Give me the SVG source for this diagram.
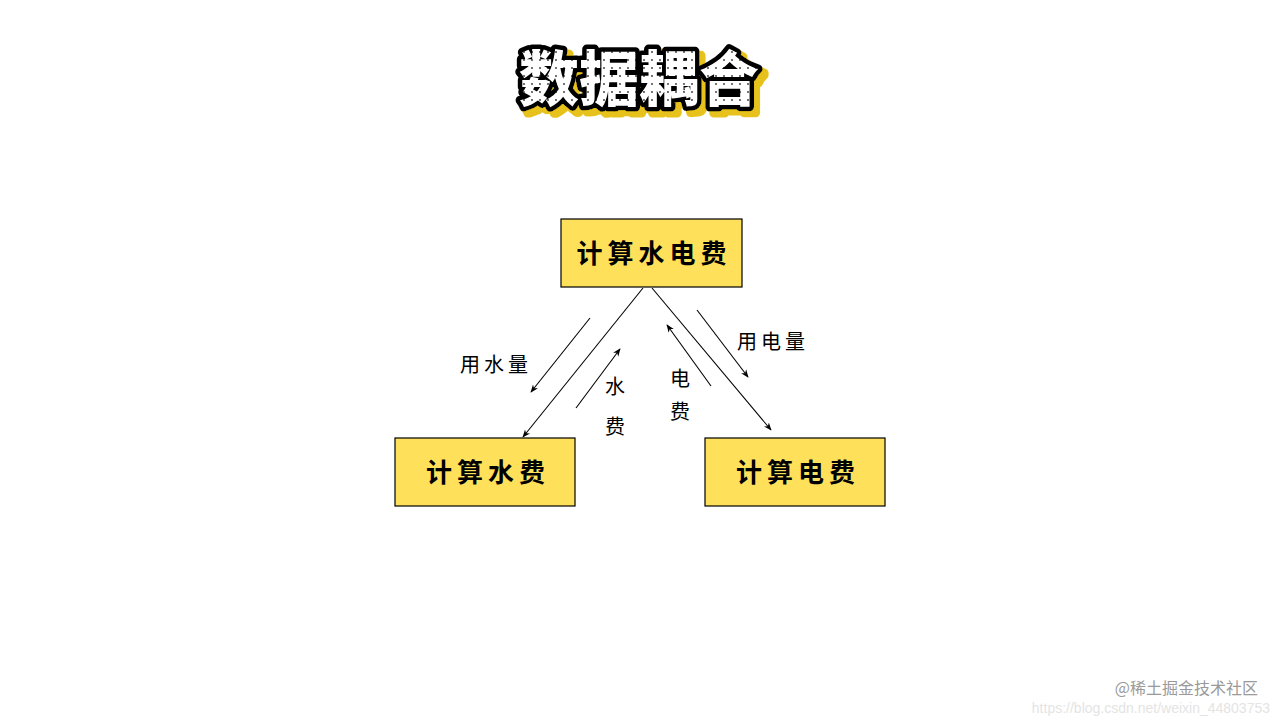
<svg xmlns="http://www.w3.org/2000/svg" width="1280" height="720" viewBox="0 0 1280 720">
<style>
.box{fill:#FFE05B;stroke:#000;stroke-width:1.2}
.nt{font-family:"Noto Sans CJK SC",sans-serif;font-size:26px;font-weight:bold;letter-spacing:5px;text-anchor:middle;fill:#000}
.lb{font-family:"Noto Sans CJK SC",sans-serif;font-size:20px;letter-spacing:4px;fill:#000}
.ln{stroke:#000;stroke-width:1.1;fill:none;marker-end:url(#ah)}
.title{font-family:"Noto Sans CJK SC",sans-serif;font-size:60px;font-weight:900;text-anchor:middle}
</style>
<defs>
<marker id="ah" viewBox="0 0 10 10" refX="9" refY="5" markerWidth="8" markerHeight="8" orient="auto" markerUnits="userSpaceOnUse">
<path d="M0,1 L10,5 L0,9 L3,5 Z" fill="#000"/>
</marker>
<pattern id="dots" width="8" height="8" patternUnits="userSpaceOnUse">
<rect width="8" height="8" fill="#fff"/>
<circle cx="4" cy="4" r="0.9" fill="#333"/>
</pattern>
<filter id="shadow" x="-10%" y="-20%" width="120%" height="150%">
<feMorphology in="SourceAlpha" operator="dilate" radius="1" result="d"/>
<feOffset in="d" dx="5" dy="5" result="o"/>
<feFlood flood-color="#E8C21A"/>
<feComposite in2="o" operator="in" result="s"/>
<feMerge><feMergeNode in="s"/><feMergeNode in="SourceGraphic"/></feMerge>
</filter>
</defs>
<rect width="1280" height="720" fill="#fff"/>
<g id="title">
<text class="title" x="639" y="101" fill="url(#dots)" stroke="#000" stroke-width="9" stroke-linejoin="round" paint-order="stroke" filter="url(#shadow)">数据耦合</text>
</g>
<g id="node-top">
<rect class="box" x="561" y="219" width="181" height="68"/>
<text class="nt" x="654" y="263">计算水电费</text>
</g>
<g id="node-water">
<rect class="box" x="395" y="438" width="180" height="68"/>
<text class="nt" x="488" y="482">计算水费</text>
</g>
<g id="node-elec">
<rect class="box" x="705" y="438" width="180" height="68"/>
<text class="nt" x="798" y="482">计算电费</text>
</g>
<g id="connectors">
<line class="ln" x1="643" y1="288" x2="523" y2="437"/>
<line class="ln" x1="652" y1="288" x2="771" y2="430"/>
<line class="ln" x1="590" y1="318" x2="531" y2="392"/>
<line class="ln" x1="576" y1="408" x2="620" y2="349"/>
<line class="ln" x1="711" y1="386" x2="667" y2="325"/>
<line class="ln" x1="697" y1="310" x2="748" y2="377"/>
</g>
<g id="labels">
<text class="lb" x="460" y="372">用水量</text>
<text class="lb" x="605" y="394">水</text>
<text class="lb" x="605" y="434">费</text>
<text class="lb" x="670" y="386">电</text>
<text class="lb" x="670" y="419">费</text>
<text class="lb" x="737" y="349">用电量</text>
</g>
<g id="watermark">
<text x="1270" y="713" font-family="Liberation Sans,sans-serif" font-size="14" fill="#e4e4e4" text-anchor="end">https://blog.csdn.net/weixin_44803753</text>
<text x="1258" y="694" font-family="Noto Sans CJK SC,sans-serif" font-size="16" fill="#9a9a9a" text-anchor="end">@稀土掘金技术社区</text>
</g>
</svg>
